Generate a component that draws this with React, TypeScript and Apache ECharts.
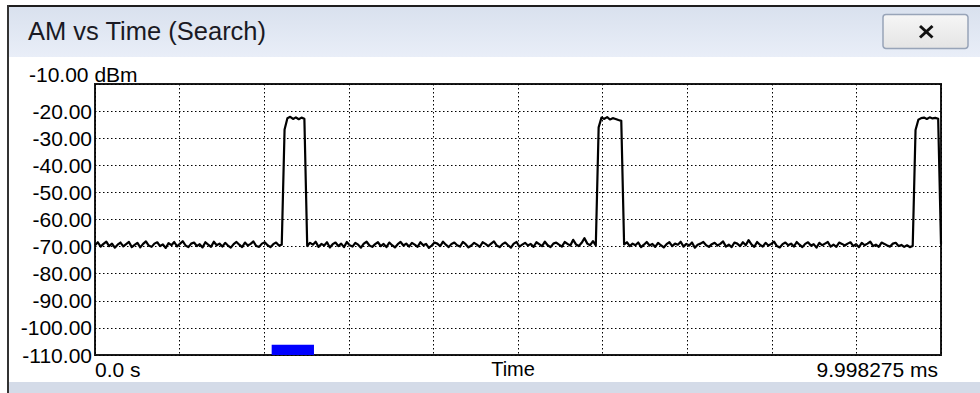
import React, { useEffect, useRef } from "react";
import * as echarts from "echarts";

// ---- data ----
const windowTitle = "AM vs Time (Search)";
const yTopLabel = "-10.00 dBm";
const xAxisName = "Time";
const xStartLabel = "0.0 s";
const xEndLabel = "9.998275 ms";

const SWEEP_MS = 9.998275; // sweep span (ms)
const SAMPLE_COUNT = 300; // uniformly clocked samples across the sweep
const Y_MIN = -110;
const Y_MAX = -10;
const Y_STEP = 10;
const X_STEP = 1;

// measured level (dBm) per sample, in order
const baselineA = [
  -69.5, -68.4, -70.0, -69.0, -68.2, -69.8, -68.9, -70.4, -69.3, -68.5,
  -69.9, -69.1, -68.3, -70.2, -69.4, -68.6, -70.3, -69.0, -68.1, -69.6,
  -70.1, -68.9, -68.4, -69.8, -69.2, -70.5, -68.7, -69.5, -68.3, -69.9,
  -69.0, -68.0, -69.6, -70.2, -68.9, -68.5, -69.8, -69.1, -70.3, -68.4,
  -69.3, -70.1, -68.2, -69.5, -68.9, -70.0, -68.6, -69.6, -70.4, -69.1,
  -68.3, -69.3, -70.2, -68.5, -69.6, -69.0, -68.1, -69.8, -70.1, -68.9,
  -68.4, -69.5, -70.2, -69.1, -68.5, -69.6, -69.3,
];
const pulse1 = [-26.8, -22.6, -22.1, -22.9, -22.3, -23.0, -22.4, -22.8];
const baselineB = [
  -69.8, -68.6, -69.3, -68.2, -70.1, -69.0, -69.6, -68.4, -70.3, -69.1,
  -68.5, -69.8, -68.9, -70.2, -68.3, -69.5, -70.0, -68.6, -69.3, -70.4,
  -68.9, -68.2, -69.6, -70.1, -69.1, -68.4, -69.8, -69.0, -70.2, -68.5,
  -69.5, -70.3, -69.1, -68.3, -69.6, -68.9, -70.0, -68.6, -69.3, -70.1,
  -68.4, -69.5, -69.0, -70.5, -69.6, -68.5, -68.9, -69.8, -68.2, -69.3,
  -70.2, -69.0, -68.5, -69.5, -70.0, -68.3, -69.1, -70.3, -69.6, -68.6,
  -69.3, -70.1, -68.4, -69.0, -69.8, -68.9, -68.1, -69.6, -70.2, -69.1,
  -68.5, -69.5, -70.4, -68.9, -68.3, -70.0, -69.3, -68.6, -69.6, -69.0,
  -70.1, -68.4, -69.1, -69.8, -68.2, -69.5, -70.2, -68.9, -68.5, -69.3,
  -70.0, -68.3, -69.0, -69.6, -67.5, -69.2, -69.8, -68.6, -66.9, -68.9,
  -69.5, -68.0, -69.6,
];
const pulse2 = [-26.0, -22.4, -22.9, -22.2, -23.1, -22.6, -22.9, -23.3, -23.6];
const baselineC = [
  -69.2, -68.4, -69.8, -68.9, -69.5, -68.5, -70.2, -69.3, -68.3, -69.6,
  -69.0, -70.1, -68.6, -69.5, -70.3, -69.1, -68.4, -69.8, -68.9, -69.3,
  -68.2, -70.0, -69.0, -69.6, -68.5, -70.4, -69.3, -68.9, -68.3, -69.5,
  -70.1, -69.1, -68.6, -69.6, -69.0, -68.1, -70.0, -69.3, -70.2, -68.5,
  -68.9, -69.8, -68.4, -69.5, -67.6, -69.2, -70.1, -68.3, -69.3, -70.0,
  -68.6, -69.6, -69.0, -68.2, -69.8, -70.3, -69.1, -68.5, -69.5, -68.9,
  -70.0, -68.3, -69.3, -70.2, -69.0, -68.4, -69.6, -69.1, -70.4, -68.6,
  -69.5, -68.9, -68.3, -70.0, -69.3, -70.1, -68.5, -69.0, -69.6, -68.9,
  -68.4, -69.8, -69.1, -70.2, -68.6, -69.5, -68.9, -68.2, -69.8, -69.3,
  -70.1, -68.5, -69.0, -69.6, -70.0, -68.9, -68.6, -69.8, -69.4, -70.1,
  -69.5, -70.2, -69.8,
];
const pulse3 = [-27.0, -23.2, -22.6, -22.4, -22.9, -22.3, -22.7, -22.5, -22.8];
const tail = [-69.0];

// search window marker: [start ms, end ms, bottom dBm, top dBm]
const searchMarker = [2.088, 2.588, -110, -106.2];

const FONT = "'Liberation Sans', Arial, sans-serif";

export default function App() {
  const ref = useRef<HTMLDivElement>(null);

  useEffect(() => {
    if (!ref.current) return;
    const chart = echarts.init(ref.current, null, { renderer: "svg" });

    const levels = [
      ...baselineA,
      ...pulse1,
      ...baselineB,
      ...pulse2,
      ...baselineC,
      ...pulse3,
      ...tail,
    ];
    const n = Math.max(levels.length, 2);
    const trace = levels.map((v, i) => [(i * SWEEP_MS) / (n - 1), v]);

    const dotted = { color: "#000", width: 1, type: [1.5, 2.5] as number[] };

    chart.setOption({
      animation: false,
      backgroundColor: "#ffffff",
      grid: {
        left: 95,
        top: 84,
        width: 846,
        height: 271,
        show: true,
        backgroundColor: "#ffffff",
        borderColor: "#1a1a1a",
        borderWidth: 2,
        containLabel: false,
        outerBoundsMode: "none",
      },
      xAxis: {
        type: "value",
        min: 0,
        max: SWEEP_MS,
        interval: X_STEP,
        axisLine: { show: false },
        axisTick: { show: false },
        splitLine: { show: true, lineStyle: dotted },
        name: xAxisName,
        nameLocation: "middle",
        nameGap: 4,
        nameMoveOverlap: false,
        nameTextStyle: {
          fontFamily: FONT,
          fontSize: 20,
          color: "#000",
          verticalAlign: "top",
          padding: [0, 10, 0, 0],
        },
        axisLabel: {
          show: true,
          showMinLabel: true,
          showMaxLabel: true,
          alignMinLabel: "left",
          alignMaxLabel: "right",
          margin: 4,
          fontFamily: FONT,
          fontSize: 21,
          color: "#000",
          padding: [0, 3, 0, 0],
          formatter: (v: number) => {
            if (v === 0) return xStartLabel;
            if (Math.abs(v - SWEEP_MS) < 1e-9) return xEndLabel;
            return "";
          },
        },
      },
      yAxis: {
        type: "value",
        min: Y_MIN,
        max: Y_MAX,
        interval: Y_STEP,
        axisLine: { show: false },
        axisTick: { show: false },
        splitLine: { show: true, lineStyle: dotted },
        axisLabel: {
          margin: 3,
          fontFamily: FONT,
          fontSize: 21,
          color: "#000",
          padding: [6, 0, 0, 0],
          formatter: (v: number) => (v === Y_MAX ? "" : v.toFixed(2)),
        },
      },
      series: [
        {
          type: "line",
          data: trace,
          symbol: "none",
          showSymbol: false,
          clip: true,
          z: 5,
          lineStyle: { color: "#000", width: 2.2, join: "round" },
          markArea: {
            silent: true,
            itemStyle: { color: "#0000ff", opacity: 1 },
            data: [
              [
                { coord: [searchMarker[0], searchMarker[2]] },
                { coord: [searchMarker[1], searchMarker[3]] },
              ],
            ],
          },
        },
      ],
      graphic: [
        // title bar
        {
          type: "rect",
          shape: { x: 9, y: 7, width: 971, height: 50 },
          style: {
            fill: new echarts.graphic.LinearGradient(0, 0, 0, 1, [
              { offset: 0, color: "#d9e1ee" },
              { offset: 1, color: "#e9eef8" },
            ]),
          },
          silent: true,
        },
        // window borders
        {
          type: "rect",
          shape: { x: 7, y: 5, width: 973, height: 2 },
          style: { fill: "#1e1e1e" },
          silent: true,
        },
        {
          type: "rect",
          shape: { x: 7, y: 5, width: 2, height: 388 },
          style: { fill: "#333333" },
          silent: true,
        },
        // bottom strip
        {
          type: "rect",
          shape: { x: 9, y: 382, width: 971, height: 11 },
          style: { fill: "#d4dbe8" },
          silent: true,
        },
        // title text
        {
          type: "text",
          x: 28,
          y: 31,
          style: {
            text: windowTitle,
            fontFamily: FONT,
            fontSize: 25.5,
            fill: "#1a1a24",
            verticalAlign: "middle",
            align: "left",
          },
          silent: true,
        },
        // close button
        {
          type: "rect",
          shape: { x: 883, y: 14.5, width: 85, height: 34, r: 3 },
          style: {
            fill: new echarts.graphic.LinearGradient(0, 0, 0, 1, [
              { offset: 0, color: "#f6f6f6" },
              { offset: 1, color: "#e4e4e4" },
            ]),
            stroke: "#98a4b8",
            lineWidth: 1.5,
          },
          silent: true,
        },
        {
          type: "line",
          shape: { x1: 920, y1: 26, x2: 932.5, y2: 37.5 },
          style: { stroke: "#111", lineWidth: 3 },
          silent: true,
        },
        {
          type: "line",
          shape: { x1: 932.5, y1: 26, x2: 920, y2: 37.5 },
          style: { stroke: "#111", lineWidth: 3 },
          silent: true,
        },
        // top unit label
        {
          type: "text",
          x: 29,
          y: 74,
          style: {
            text: yTopLabel,
            fontFamily: FONT,
            fontSize: 21,
            fill: "#000",
            verticalAlign: "middle",
            align: "left",
          },
          silent: true,
        },
      ],
    });

    return () => chart.dispose();
  }, []);

  return (
    <div
      ref={ref}
      style={{
        position: "fixed",
        left: 0,
        top: 0,
        width: 980,
        height: 393,
        background: "#fff",
      }}
    />
  );
}
